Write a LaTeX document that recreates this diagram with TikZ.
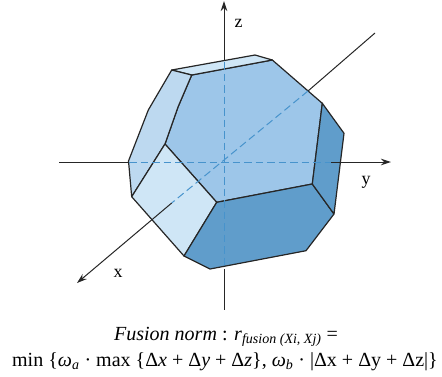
\documentclass[tikz,border=0pt]{standalone}
\usepackage{fontspec}
\setmainfont{Liberation Serif}
\usepackage{xcolor}
\usetikzlibrary{arrows.meta}
\definecolor{facemain}{HTML}{9DC6E9}
\definecolor{faceleft}{HTML}{BDD9F0}
\definecolor{facelight}{HTML}{CFE6F6}
\definecolor{facedark}{HTML}{609DCB}
\definecolor{hiddenaxis}{HTML}{4793CC}

\begin{document}
\begin{tikzpicture}[
    x=1bp, y=-1bp,
    face/.style={draw=black!85, line width=1.2bp, line join=round},
    axis/.style={draw=black!85, line width=1bp},
    axisarrow/.style={axis, -{Stealth[length=10bp, width=6.5bp]}},
    hidden/.style={draw=hiddenaxis, line width=1bp, dash pattern=on 7.5bp off 4bp},
    axislabel/.style={font=\fontsize{18}{18}\selectfont, inner sep=0pt},
    caption/.style={font=\fontsize{20.1}{20.1}\selectfont, inner sep=0pt, anchor=base}
]
    \useasboundingbox (0,0) rectangle (442,376);

    % Corners of the solid
    \coordinate (apex) at (171.7,70);
    \coordinate (topin) at (191.7,75);
    \coordinate (topback) at (255,55);
    \coordinate (topright) at (272.3,60);
    \coordinate (rightup) at (322.3,103.3);
    \coordinate (rightout) at (344,133.3);
    \coordinate (rightlow) at (334,214);
    \coordinate (lowright) at (306,250.7);
    \coordinate (bottom) at (210,269);
    \coordinate (lowleft) at (184,256);
    \coordinate (leftlow) at (131.7,196.7);
    \coordinate (leftmid) at (128.5,161);
    \coordinate (leftup) at (148.3,110);
    \coordinate (midin) at (178,107);
    \coordinate (midleft) at (165,144);
    \coordinate (midfront) at (216.7,202.3);
    \coordinate (midright) at (312.3,184);

    % Axis ends
    \coordinate (ztip) at (224,1);
    \coordinate (zin) at (224,62);
    \coordinate (zout) at (224,269);
    \coordinate (zend) at (224,310);
    \coordinate (ystart) at (59,162);
    \coordinate (yin) at (129,162);
    \coordinate (yout) at (331,162);
    \coordinate (ytip) at (391,162);
    \coordinate (xstart) at (375,33);
    \coordinate (xin) at (308,91);
    \coordinate (xout) at (171.7,203);
    \coordinate (xtip) at (77,283);

    % Axes behind the solid
    \draw[axisarrow] (zin) -- (ztip);
    \draw[axis] (zout) -- (zend);
    \draw[axis] (ystart) -- (yin);
    \draw[axis] (xstart) -- (xin);

    % Faces
    \filldraw[face, fill=facemain] (topin) -- (topright) -- (rightup) -- (midright) -- (midfront) -- (midleft) -- (midin) -- cycle;
    \filldraw[face, fill=facelight] (apex) -- (topback) -- (topright) -- (topin) -- cycle;
    \filldraw[face, fill=faceleft] (apex) -- (topin) -- (midin) -- (midleft) -- (leftlow) -- (leftmid) -- (leftup) -- cycle;
    \filldraw[face, fill=facelight] (midleft) -- (midfront) -- (lowleft) -- (leftlow) -- cycle;
    \filldraw[face, fill=facedark] (midfront) -- (midright) -- (rightlow) -- (lowright) -- (bottom) -- (lowleft) -- cycle;
    \filldraw[face, fill=facedark] (rightup) -- (rightout) -- (rightlow) -- (midright) -- cycle;

    % Hidden parts of the axes
    \draw[hidden] (zin) -- (zout);
    \draw[hidden] (yin) -- (yout);
    \draw[hidden] (xin) -- (xout);

    % Axis parts over the solid
    \draw[axisarrow] (yout) -- (ytip);
    \draw[axisarrow] (xout) -- (xtip);

    % Axis labels
    \node[axislabel] (zlabel) at (238.5,23) {z};
    \node[axislabel] (ylabel) at (366,182) {y};
    \node[axislabel] (xlabel) at (118,273) {x};

    % Formula
    \node[caption] (normline) at (226,340) {\textit{Fusion norm} : \textit{r}\textsubscript{\textit{fusion (Xi, Xj)}} =};
    \node[caption] (minline) at (225,366) {min \{\textit{ω}\textsubscript{\textit{a}} · max \{Δ\textit{x} + Δ\textit{y} + Δ\textit{z}\}, \textit{ω}\textsubscript{\textit{b}} · |Δx + Δy + Δz|\}};
\end{tikzpicture}
\end{document}
